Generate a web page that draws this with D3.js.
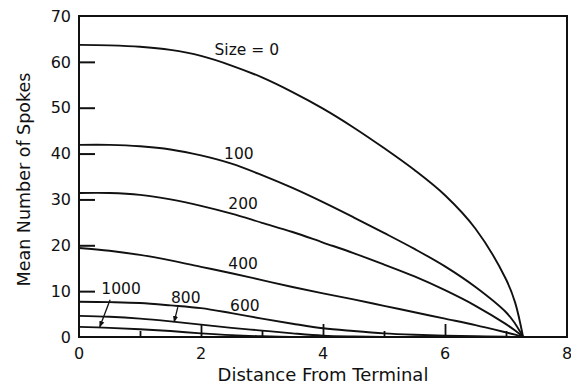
<!DOCTYPE html>
<html>
<head>
<meta charset="utf-8">
<script src="https://cdn.jsdelivr.net/npm/d3@7"></script>
<style>
  body { margin: 0; background: #fff; }
  text { font-family: "DejaVu Sans", sans-serif; fill: #111; }
</style>
</head>
<body>
<div id="container"></div>
<script>
// distance grid (x) shared by every curve
const distance = [0, 0.5, 1, 1.5, 2, 2.5, 3, 3.5, 4, 4.5, 5, 5.5, 6, 6.5, 7, 7.15, 7.28];

// mean number of spokes, one array per size
const size0    = [63.7, 63.6, 63.3, 62.6, 61.3, 59.2, 56.6, 53.4, 49.8, 45.7, 41.2, 36.4, 30.9, 23.6, 12.6, 7.5, 0];
const size100  = [41.9, 41.9, 41.6, 40.9, 39.6, 37.8, 35.3, 32.5, 29.4, 26.1, 22.7, 19.2, 15.4, 10.9, 5.4, 2.9, 0];
const size200  = [31.4, 31.4, 31.0, 30.0, 28.6, 26.9, 24.9, 22.9, 20.6, 18.3, 15.8, 13.2, 10.2, 6.8, 2.8, 1.4, 0];
const size400  = [19.4, 18.8, 17.9, 16.7, 15.3, 13.9, 12.4, 10.9, 9.5, 8.2, 6.8, 5.4, 4.0, 2.6, 1.0, 0.5, 0];
const size600  = [7.7, 7.6, 7.4, 6.9, 6.3, 5.2, 4.0, 2.9, 1.9, 1.3, 0.8, 0.5, 0.3, 0.15, 0.05, 0, 0];
const size800  = [4.6, 4.4, 4.0, 3.4, 2.7, 2.0, 1.4, 0.8, 0.3, 0.1, 0, 0, 0, 0, 0, 0, 0];
const size1000 = [2.2, 2.0, 1.7, 1.3, 0.8, 0.4, 0.15, 0, 0, 0, 0, 0, 0, 0, 0, 0, 0];

const series = [size0, size100, size200, size400, size600, size800, size1000];

// tick labels
const xTicks = [0, 2, 4, 6, 8];
const xMinor = [1, 3, 5, 7];
const yTicks = [0, 10, 20, 30, 40, 50, 60, 70];

// curve labels [text, x, y] in data units
const curveLabels = [
    ['Size = 0', 2.75, 62.8],
    ['100', 2.62, 40.1],
    ['200', 2.69, 29.2],
    ['400', 2.69, 16.1],
    ['600', 2.72, 6.8],
    ['800', 1.75, 8.7],
    ['1000', 0.69, 10.7]
];

// arrows from label to curve [x1, y1, x2, y2]
const arrows = [
    [0.51, 8.1, 0.34, 2.2],
    [1.62, 6.5, 1.56, 3.3]
];

const width = 571;
const height = 386;
const padding = { top: 16, right: 4, bottom: 49, left: 79 };
const chartArea = {
    width: width - padding.left - padding.right,
    height: height - padding.top - padding.bottom
};

const svg = d3.select('#container').append('svg')
    .attr('width', width)
    .attr('height', height);

svg.append('defs').append('marker')
    .attr('id', 'arrow')
    .attr('viewBox', '0 0 10 10')
    .attr('refX', 9).attr('refY', 5)
    .attr('markerWidth', 5).attr('markerHeight', 5)
    .attr('orient', 'auto')
    .append('path')
    .attr('d', 'M0,1 L10,5 L0,9 Z')
    .attr('fill', '#111');

const xScale = d3.scaleLinear().domain([0, 8]).range([0, chartArea.width]);
const yScale = d3.scaleLinear().domain([0, 70]).range([chartArea.height, 0]);

const g = svg.append('g')
    .attr('transform', 'translate(' + padding.left + ',' + padding.top + ')');

// frame
g.append('rect')
    .attr('width', chartArea.width)
    .attr('height', chartArea.height)
    .attr('fill', 'none')
    .attr('stroke', '#111')
    .attr('stroke-width', 2);

// left axis, ticks pointing inwards
const yAxis = g.append('g')
    .call(d3.axisLeft(yScale).tickValues(yTicks.filter(d => d > 0 && d < 70)).tickSize(-16).tickFormat(''));
yAxis.select('.domain').remove();
yAxis.selectAll('line').attr('stroke', '#111').attr('stroke-width', 2);

g.selectAll('.ylab')
    .data(yTicks)
    .enter()
    .append('text')
    .attr('class', 'ylab')
    .attr('x', -8)
    .attr('y', d => yScale(d))
    .attr('dy', '0.36em')
    .attr('text-anchor', 'end')
    .style('font-size', '16px')
    .text(d => d);

// bottom axis, major and minor ticks inwards
const xAxis = g.append('g')
    .attr('transform', 'translate(0,' + chartArea.height + ')')
    .call(d3.axisBottom(xScale).tickValues(xTicks.filter(d => d > 0 && d < 8)).tickSize(-13).tickFormat(''));
xAxis.select('.domain').remove();
xAxis.selectAll('line').attr('stroke', '#111').attr('stroke-width', 1.8);

const xAxisMinor = g.append('g')
    .attr('transform', 'translate(0,' + chartArea.height + ')')
    .call(d3.axisBottom(xScale).tickValues(xMinor).tickSize(-6).tickFormat(''));
xAxisMinor.select('.domain').remove();
xAxisMinor.selectAll('line').attr('stroke', '#111').attr('stroke-width', 1.8);

g.selectAll('.xlab')
    .data(xTicks)
    .enter()
    .append('text')
    .attr('class', 'xlab')
    .attr('x', d => xScale(d))
    .attr('y', chartArea.height + 16)
    .attr('text-anchor', 'middle')
    .attr('dy', '0.36em')
    .style('font-size', '16px')
    .text(d => d);

// curves
const line = d3.line()
    .x((d, i) => xScale(distance[i]))
    .y(d => yScale(d))
    .curve(d3.curveCatmullRom.alpha(0.5));

g.selectAll('.curve')
    .data(series)
    .enter()
    .append('path')
    .attr('class', 'curve')
    .attr('d', line)
    .attr('fill', 'none')
    .attr('stroke', '#111')
    .attr('stroke-width', 1.9);

// curve labels
g.selectAll('.clab')
    .data(curveLabels)
    .enter()
    .append('text')
    .attr('class', 'clab')
    .attr('x', d => xScale(d[1]))
    .attr('y', d => yScale(d[2]))
    .attr('dy', '0.36em')
    .attr('text-anchor', 'middle')
    .style('font-size', '15.5px')
    .text(d => d[0]);

g.selectAll('.arrow')
    .data(arrows)
    .enter()
    .append('line')
    .attr('x1', d => xScale(d[0]))
    .attr('y1', d => yScale(d[1]))
    .attr('x2', d => xScale(d[2]))
    .attr('y2', d => yScale(d[3]))
    .attr('stroke', '#111')
    .attr('stroke-width', 1.3)
    .attr('marker-end', 'url(#arrow)');

// axis titles
svg.append('text')
    .attr('transform', 'rotate(-90)')
    .attr('x', -(padding.top + chartArea.height / 2) - 3)
    .attr('y', 24)
    .attr('dy', '0.36em')
    .attr('text-anchor', 'middle')
    .style('font-size', '17.5px')
    .text('Mean Number of Spokes');

svg.append('text')
    .attr('x', padding.left + chartArea.width / 2)
    .attr('y', 375)
    .attr('dy', '0.36em')
    .attr('text-anchor', 'middle')
    .style('font-size', '18px')
    .text('Distance From Terminal');
</script>
</body>
</html>
